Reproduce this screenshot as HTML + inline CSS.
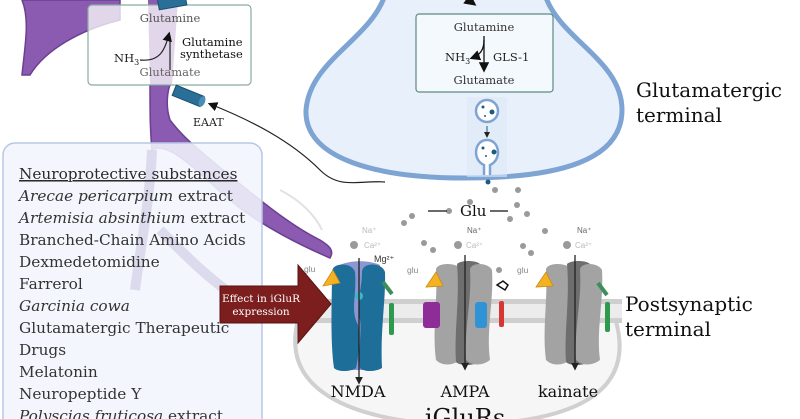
<!DOCTYPE html>
<html><head><meta charset="utf-8"><style>
html,body{margin:0;padding:0;background:#fff;}
svg{display:block;}
.s{font-family:"DejaVu Serif","Liberation Serif",serif;}
.a{font-family:"Liberation Sans",sans-serif;}
</style></head><body>
<svg width="800" height="419" viewBox="0 0 800 419" xmlns="http://www.w3.org/2000/svg">
<defs>
<marker id="ah" markerWidth="8" markerHeight="8" refX="6" refY="4" orient="auto"><path d="M0,0 L8,4 L0,8 z" fill="#111"/></marker>
<marker id="ahs" markerWidth="6" markerHeight="6" refX="4" refY="3" orient="auto"><path d="M0,0 L6,3 L0,6 z" fill="#222"/></marker>
</defs>
<!-- faint arc of postsynaptic top -->
<path d="M280,190 C300,200 315,215 322,230" fill="none" stroke="#e2e2e2" stroke-width="2"/>
<!-- astrocyte purple -->
<path d="M22,0 L120,0 L120,20 C80,30 45,50 30,75 L22,75 C25,45 30,20 22,0 z" fill="#8a5bb0" stroke="#6b3f92" stroke-width="1.5"/>
<path d="M150,85 C150,110 150,130 152,150 C170,140 200,175 230,200 C260,225 300,245 330,258 C335,250 328,245 320,240 C290,225 260,200 235,180 C205,155 185,140 170,120 C165,105 168,90 170,85 z" fill="#8a5bb0" stroke="#6b3f92" stroke-width="1.5"/>
<path d="M148,0 L178,0 L172,85 L150,85 z" fill="#8a5bb0"/>
<!-- presynaptic terminal -->
<path d="M385,-5 C370,40 310,60 306,110 C304,160 380,178 465,178 C560,178 622,160 622,110 C622,60 560,40 545,-5" fill="#e8f1fb" stroke="#7ea4d4" stroke-width="5"/>
<rect x="416" y="14" width="137" height="78" rx="3" fill="#f4f9fd" stroke="#5b8a80" stroke-width="1.2"/>
<text class="s" x="484" y="31" font-size="11.5" text-anchor="middle" fill="#333">Glutamine</text>
<text class="s" x="484" y="84" font-size="11.5" text-anchor="middle" fill="#333">Glutamate</text>
<text class="s" x="445" y="61" font-size="11.5" fill="#222">NH<tspan font-size="8" dy="3">3</tspan></text>
<text class="s" x="493" y="61" font-size="11.5" fill="#222">GLS-1</text>
<line x1="484" y1="36" x2="484" y2="70" stroke="#111" stroke-width="1.3" marker-end="url(#ah)"/>
<path d="M484,40 C484,50 480,55 472,58" fill="none" stroke="#111" stroke-width="1.3" marker-end="url(#ah)"/>
<path d="M466,-2 L474,4" stroke="#111" stroke-width="1.5" marker-end="url(#ah)"/>
<!-- vesicles -->
<rect x="467" y="97" width="40" height="80" fill="#dde9f6" opacity="0.6"/>
<circle cx="487" cy="111" r="11" fill="#fff" stroke="#7ea4d4" stroke-width="2.5"/>
<circle cx="483" cy="107" r="1.5" fill="#1b5d80"/><circle cx="492" cy="112" r="2.5" fill="#1b5d80"/><circle cx="485" cy="116" r="1" fill="#1b5d80"/>
<line x1="487" y1="126" x2="487" y2="136" stroke="#1b5d80" stroke-width="1" marker-end="url(#ahs)"/>
<path d="M484,175 L484,165 C472,160 474,140 487,140 C500,140 502,160 490,165 L490,175" fill="#fff" stroke="#7ea4d4" stroke-width="2.5"/>
<circle cx="483" cy="148" r="1.5" fill="#1b5d80"/><circle cx="494" cy="152" r="2.5" fill="#1b5d80"/><circle cx="486" cy="156" r="1" fill="#1b5d80"/>
<circle cx="488" cy="182" r="2.5" fill="#1b5d80"/>
<!-- astrocyte box -->
<rect x="88" y="5" width="163" height="80" rx="4" fill="#ffffff" fill-opacity="0.75" stroke="#8aaca2" stroke-width="1.2"/>
<text class="s" x="170" y="22" font-size="11.5" text-anchor="middle" fill="#555">Glutamine</text>
<text class="s" x="170" y="76" font-size="11.5" text-anchor="middle" fill="#666">Glutamate</text>
<text class="s" x="114" y="62" font-size="11.5" fill="#222">NH<tspan font-size="8" dy="3">3</tspan></text>
<text class="s" x="182" y="46" font-size="11.5" fill="#111">Glutamine</text>
<text class="s" x="180" y="58" font-size="11.5" fill="#111">synthetase</text>
<line x1="170" y1="70" x2="170" y2="36" stroke="#222" stroke-width="1.2"/>
<path d="M140,60 C160,62 165,50 169,34" fill="none" stroke="#222" stroke-width="1.2" marker-end="url(#ah)"/>
<!-- EAAT -->
<g transform="rotate(22 187 96)"><rect x="173" y="90" width="30" height="11" fill="#2a6f98" stroke="#1b4e6e"/><ellipse cx="203" cy="95.5" rx="3" ry="5.5" fill="#4a8db5"/></g>
<g transform="rotate(-10 186 0)"><rect x="158" y="-6" width="28" height="11" fill="#2a6f98" stroke="#1b4e6e"/></g>
<text class="s" x="193" y="126" font-size="11" fill="#222">EAAT</text>
<path d="M385,182 C360,180 340,190 320,170 C290,140 250,120 210,104" fill="none" stroke="#222" stroke-width="1.2" marker-end="url(#ah)"/>
<!-- postsynaptic -->
<path d="M298,320 C280,390 350,420 450,425 C560,425 640,400 615,318" fill="#f6f6f6" stroke="#d0d0d0" stroke-width="4"/>
<rect x="292" y="300" width="330" height="22" fill="#ececec"/>
<rect x="292" y="299" width="330" height="5" fill="#cfcfcf"/>
<rect x="292" y="318" width="330" height="5" fill="#cfcfcf"/>
<!-- glu dots -->
<g fill="#9a9a9a">
<circle cx="412" cy="216" r="3"/><circle cx="404" cy="223" r="3"/><circle cx="470" cy="202" r="3"/><circle cx="495" cy="190" r="3"/><circle cx="518" cy="190" r="3"/><circle cx="517" cy="205" r="3"/><circle cx="527" cy="214" r="3"/><circle cx="510" cy="219" r="3"/><circle cx="424" cy="243" r="3"/><circle cx="433" cy="250" r="3"/><circle cx="545" cy="231" r="3"/><circle cx="523" cy="246" r="3"/><circle cx="531" cy="253" r="3"/><circle cx="499" cy="270" r="3"/><circle cx="449" cy="211" r="3"/>
<circle cx="354" cy="245" r="4"/><circle cx="458" cy="245" r="4"/><circle cx="567" cy="245" r="4"/>
</g>
<line x1="428" y1="211" x2="447" y2="211" stroke="#111" stroke-width="1.3"/>
<line x1="490" y1="211" x2="508" y2="211" stroke="#111" stroke-width="1.3"/>
<text class="s" x="460" y="216" font-size="15" fill="#111">Glu</text>
<g class="a" font-size="8" fill="#bbb">
<text x="362" y="233">Na⁺</text><text x="364" y="248">Ca²⁺</text>
<text x="467" y="233" fill="#666">Na⁺</text><text x="466" y="248">Ca²⁺</text>
<text x="577" y="233" fill="#666">Na⁺</text><text x="575" y="248">Ca²⁺</text>
</g>
<text class="a" x="374" y="262" font-size="9" fill="#333">Mg²⁺</text>
<text class="a" x="304" y="272" font-size="8.5" fill="#888">glu</text>
<text class="a" x="407" y="273" font-size="8.5" fill="#888">glu</text>
<text class="a" x="517" y="273" font-size="8.5" fill="#888">glu</text>
<!-- NMDA -->
<path d="M340,265 C350,260 370,260 380,265 L378,370 L340,370 z" fill="#8c96d1"/>
<path d="M332,272 C332,262 352,262 355,272 C357,295 350,310 358,325 C360,345 358,360 356,368 C350,372 338,372 334,368 C330,340 332,300 332,272 z" fill="#1d6e99"/>
<path d="M362,272 C362,262 382,262 385,272 C386,300 380,330 382,368 C375,372 364,372 360,368 C358,350 362,330 360,320 C356,300 362,290 362,272 z" fill="#1d6e99"/>
<circle cx="359" cy="296" r="4" fill="#3fb5c6"/>
<line x1="359" y1="258" x2="359" y2="382" stroke="#222" stroke-width="1.3" marker-end="url(#ahs)"/>
<path d="M323,286 L333,270 L340,283 z" fill="#f4b223" stroke="#c98a10" stroke-width="0.8"/>
<path d="M383,282 L392,294" stroke="#3d8e5a" stroke-width="4"/>
<rect x="389" y="303" width="5" height="32" rx="2" fill="#2e9a4e"/>
<!-- AMPA -->
<path d="M436,270 C436,262 458,262 462,270 C464,300 456,320 460,360 C452,366 442,366 436,360 C432,330 438,300 436,270 z" fill="#a3a3a3"/>
<path d="M457,264 C461,260 476,260 480,264 C482,300 476,330 480,362 C472,366 460,366 456,362 C454,330 460,300 457,264 z" fill="#6e6e6e"/>
<path d="M470,270 C470,262 488,262 492,270 C494,300 486,330 490,360 C482,366 472,366 466,360 C464,330 472,300 470,270 z" fill="#a3a3a3"/>
<line x1="465" y1="255" x2="465" y2="368" stroke="#222" stroke-width="1.3" marker-end="url(#ahs)"/>
<path d="M426,287 L436,272 L443,286 z" fill="#f4b223" stroke="#c98a10" stroke-width="0.8"/>
<rect x="423" y="302" width="17" height="26" rx="3" fill="#8e2c98"/>
<rect x="475" y="302" width="12" height="26" rx="3" fill="#2f93d6"/>
<rect x="499" y="301" width="5" height="26" rx="2" fill="#d83535"/>
<path d="M497,285 l6,-4 l5,4 l-3,5 z" fill="#fff" stroke="#111" stroke-width="1.5"/>
<!-- kainate -->
<path d="M546,270 C546,262 568,262 572,270 C574,300 566,320 570,360 C562,366 552,366 546,360 C542,330 548,300 546,270 z" fill="#a3a3a3"/>
<path d="M567,264 C571,260 586,260 590,264 C592,300 586,330 590,362 C582,366 570,366 566,362 C564,330 570,300 567,264 z" fill="#6e6e6e"/>
<path d="M580,270 C580,262 598,262 602,270 C604,300 596,330 600,360 C592,366 582,366 576,360 C574,330 582,300 580,270 z" fill="#a3a3a3"/>
<line x1="575" y1="255" x2="575" y2="368" stroke="#222" stroke-width="1.3" marker-end="url(#ahs)"/>
<path d="M536,287 L546,272 L553,286 z" fill="#f4b223" stroke="#c98a10" stroke-width="0.8"/>
<path d="M598,283 L607,295" stroke="#3d8e5a" stroke-width="4"/>
<rect x="605" y="302" width="5" height="30" rx="2" fill="#2e9a4e"/>
<text class="s" x="358" y="397" font-size="16" text-anchor="middle" fill="#111">NMDA</text>
<text class="s" x="465" y="397" font-size="16" text-anchor="middle" fill="#111">AMPA</text>
<text class="s" x="568" y="397" font-size="16" text-anchor="middle" fill="#111">kainate</text>
<text class="s" x="465" y="426" font-size="24" text-anchor="middle" fill="#111">iGluRs</text>
<!-- panel -->
<rect x="3" y="143" width="259" height="290" rx="12" fill="#f1f5fc" fill-opacity="0.88" stroke="#b6c7e6" stroke-width="1.5"/>
<path d="M152,150 C150,200 140,250 135,290 M160,230 C190,260 210,280 240,300" fill="none" stroke="#c6bfe0" stroke-width="10" opacity="0.5"/>
<g class="s" font-size="15.3" fill="#333">
<text x="19" y="179" text-decoration="underline" fill="#2a2a2a">Neuroprotective substances</text>
<text x="19" y="201"><tspan font-style="italic">Arecae pericarpium</tspan> extract</text>
<text x="19" y="223"><tspan font-style="italic">Artemisia absinthium</tspan> extract</text>
<text x="19" y="245">Branched-Chain Amino Acids</text>
<text x="19" y="267">Dexmedetomidine</text>
<text x="19" y="289">Farrerol</text>
<text x="19" y="311" font-style="italic">Garcinia cowa</text>
<text x="19" y="333">Glutamatergic Therapeutic</text>
<text x="19" y="355">Drugs</text>
<text x="19" y="377">Melatonin</text>
<text x="19" y="399">Neuropeptide Y</text>
<text x="19" y="421"><tspan font-style="italic">Polyscias fruticosa</tspan> extract</text>
</g>
<!-- red arrow -->
<path d="M220,286 L298,286 L298,265 L331,304 L298,343 L298,323 L220,323 z" fill="#7c1e1e" stroke="#5a1010" stroke-width="1"/>
<text class="s" x="261" y="302" font-size="10.5" text-anchor="middle" fill="#fff">Effect in iGluR</text>
<text class="s" x="261" y="315" font-size="10.5" text-anchor="middle" fill="#fff">expression</text>
<!-- right labels -->
<g class="s" font-size="20" fill="#111">
<text x="636" y="97">Glutamatergic</text>
<text x="636" y="122">terminal</text>
<text x="625" y="311">Postsynaptic</text>
<text x="625" y="336">terminal</text>
</g>
</svg>
</body></html>
